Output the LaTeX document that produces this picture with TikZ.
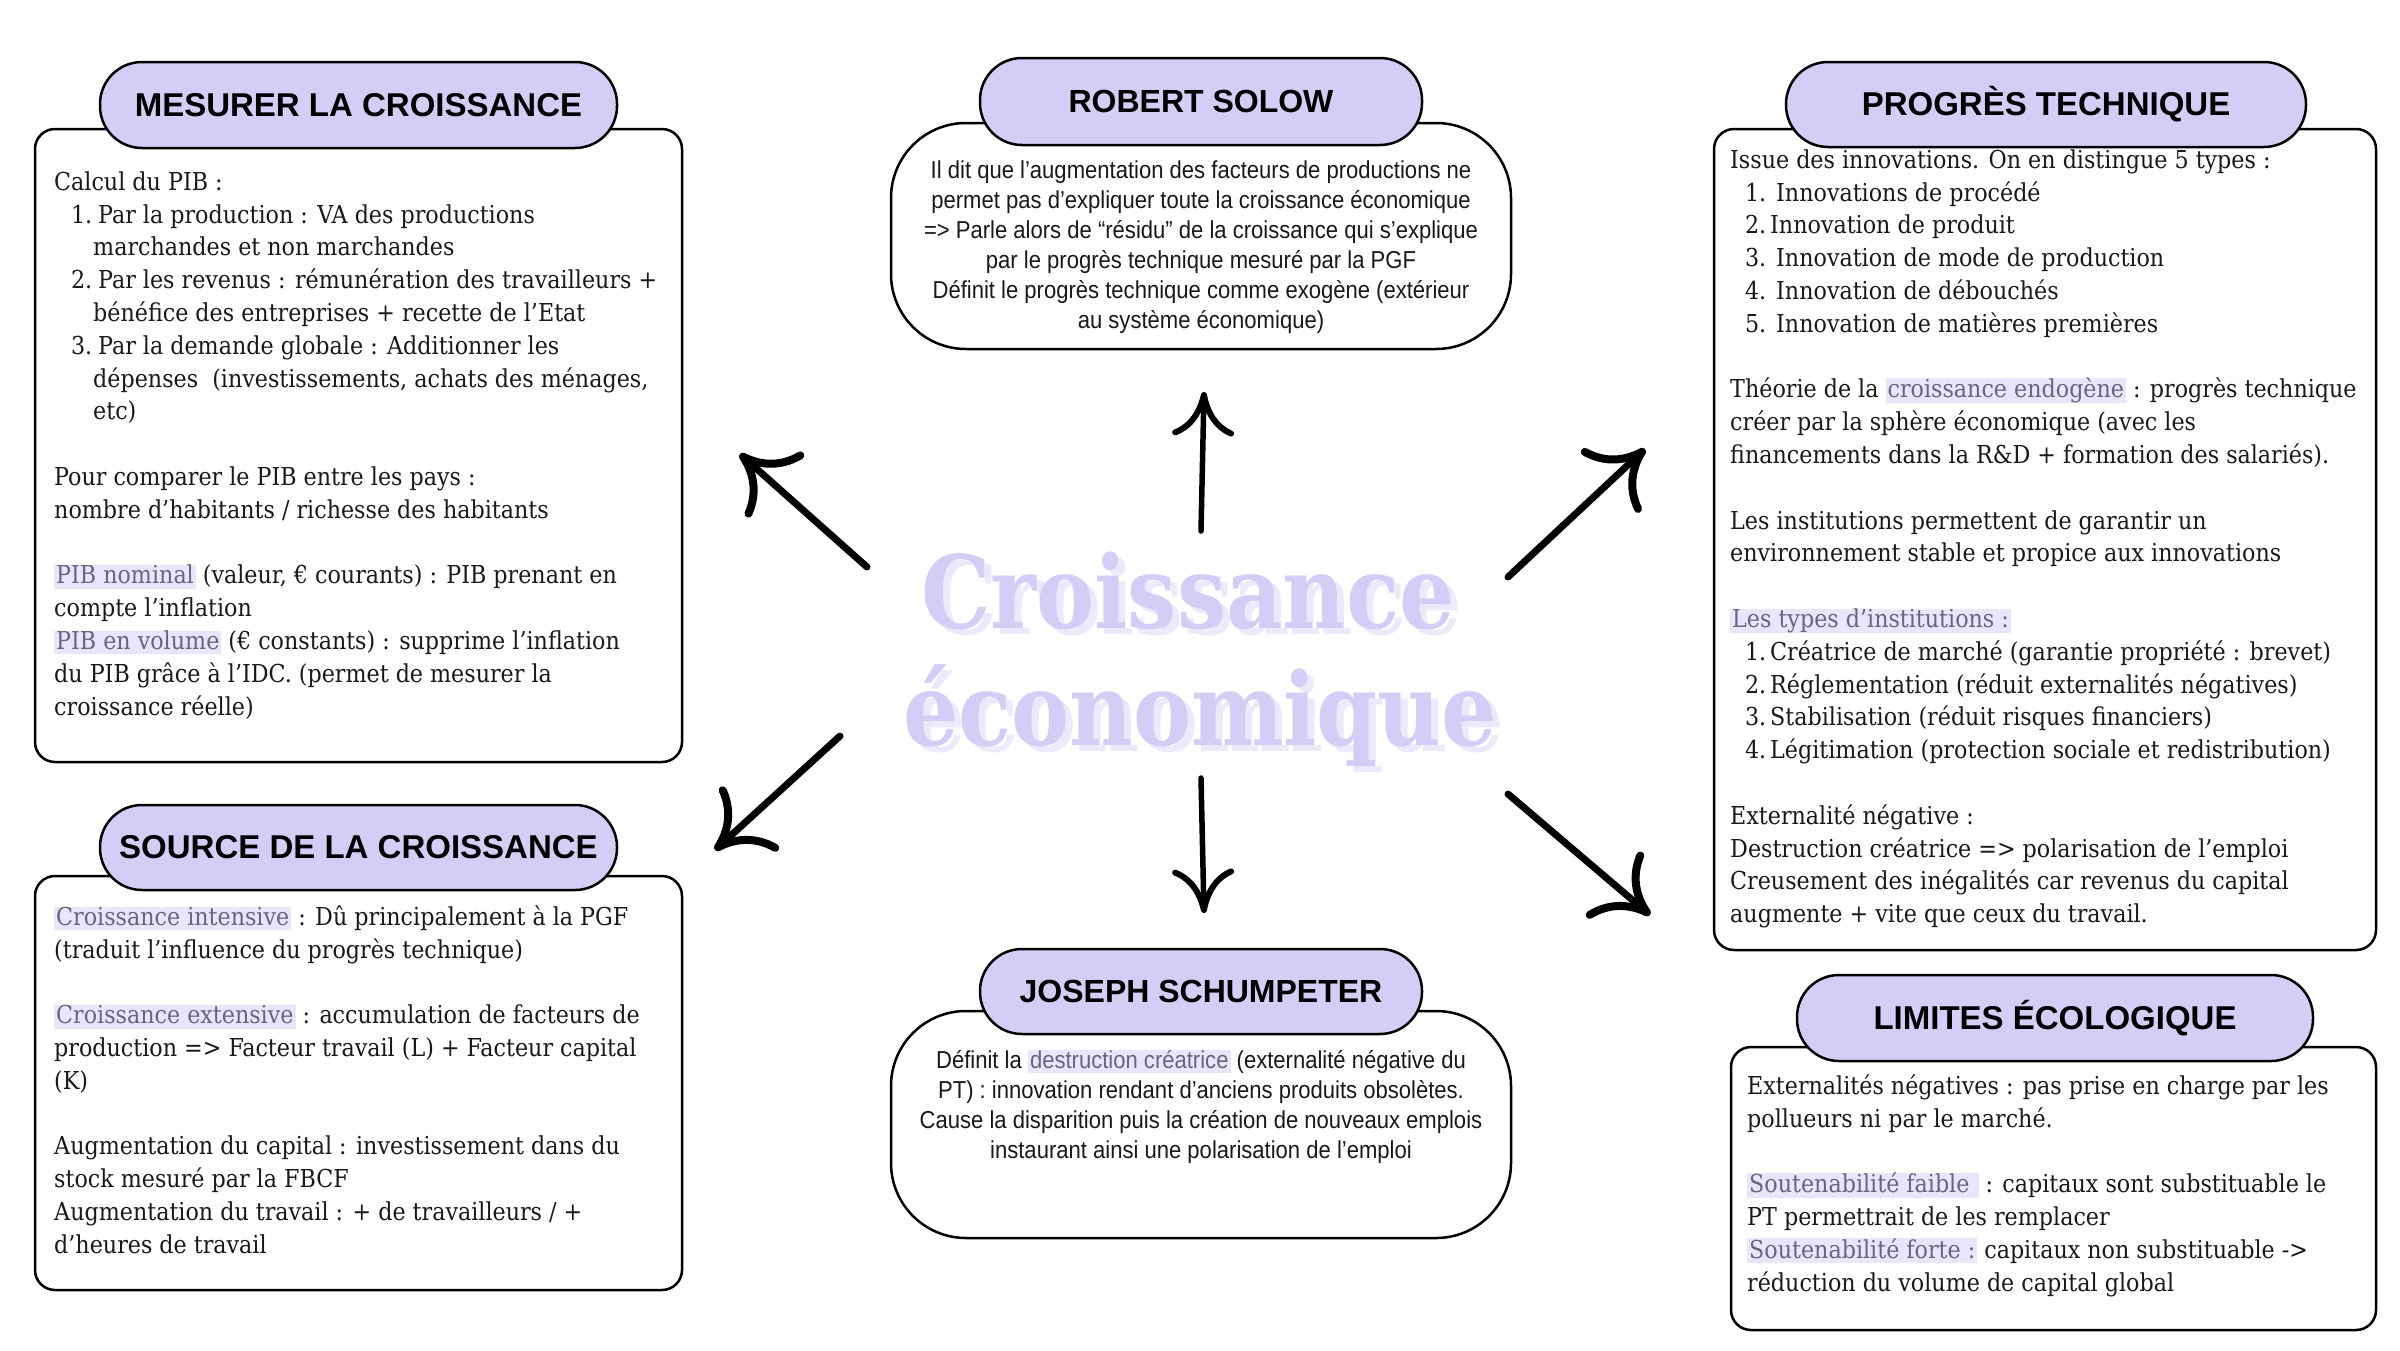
\documentclass[tikz,border=0pt]{standalone}
\usepackage{fontspec}
\usetikzlibrary{arrows.meta}
\newfontfamily\serifbody{DejaVu Serif Condensed}
\newfontfamily\sansbody{Liberation Sans}[FakeStretch=0.9]
\newfontfamily\headfont{Liberation Sans Bold}
\newfontfamily\titlefont{DejaVu Serif Condensed Bold}[FakeStretch=0.96]
\definecolor{lav}{RGB}{213,205,246}
\definecolor{lavshadow}{RGB}{236,233,252}
\definecolor{hlbg}{RGB}{233,229,250}
\definecolor{hltx}{RGB}{105,100,130}
\definecolor{ink}{RGB}{25,25,25}
\newcommand\hl[1]{{\setlength{\fboxsep}{0pt}\colorbox{hlbg}{\rule[-0.2em]{0pt}{0.92em}\hspace{2pt}\textcolor{hltx}{#1}\hspace{2pt}}}}
\newcommand\fs{\rule{0pt}{25pt}}
\newcommand\num[2]{\makebox[#1][r]{#2}}
\newcommand\ind[1]{\hspace*{#1}}
\tikzset{
  bodybox/.style={draw=black, line width=2.5pt, fill=white, rounded corners=20pt, inner sep=0pt},
  roundbox/.style={draw=black, line width=2.5pt, fill=white, rounded corners=75pt, inner sep=0pt},
  head/.style={draw=black, line width=2.5pt, fill=lav, rounded corners=42pt, inner sep=0pt, text=black, font=\headfont\fontsize{33}{36}\selectfont},
  headsm/.style={head, font=\headfont\fontsize{32}{36}\selectfont},
  txt/.style={inner sep=0pt, anchor=north west, align=left, text=ink, font=\serifbody\fontsize{24.7}{32.8}\selectfont},
  ctxt/.style={inner sep=0pt, anchor=north, align=center, text=ink, font=\sansbody\fontsize{24.5}{30}\selectfont},
  ttl/.style={inner sep=0pt, anchor=base, font=\titlefont\fontsize{101}{110}\selectfont},
  arrd/.style={line width=7pt, line cap=round, -{Computer Modern Rightarrow[length=50pt,width=86pt,line width=8pt]}},
  arrv/.style={line width=5.5pt, line cap=round, -{Computer Modern Rightarrow[length=44pt,width=62pt,line width=6pt]}}
}
\begin{document}
\begin{tikzpicture}[x=1pt,y=-1pt]
\useasboundingbox (0,0) rectangle (2400,1350);
\fill[white] (0,0) rectangle (2400,1350);

% bodies
\node[bodybox, minimum width=647pt, minimum height=633pt] (m1body) at (358.5,445.5) {};
\node[bodybox, minimum width=647pt, minimum height=414pt] (m2body) at (358.5,1083) {};
\node[roundbox, minimum width=620pt, minimum height=226pt] (solbody) at (1201,236) {};
\node[roundbox, minimum width=620pt, minimum height=227pt] (schbody) at (1201,1124.5) {};
\node[bodybox, minimum width=662pt, minimum height=821pt] (ptbody) at (2045,539.5) {};
\node[bodybox, minimum width=645pt, minimum height=283pt] (lebody) at (2053.5,1188.5) {};

% headers
\node[head, minimum width=517pt, minimum height=86pt] (m1head) at (358.5,105) {MESURER LA CROISSANCE};
\node[head, minimum width=517pt, minimum height=85pt] (m2head) at (358.5,847.5) {SOURCE DE LA CROISSANCE};
\node[headsm, minimum width=442pt, minimum height=87pt] (solhead) at (1201,101.5) {ROBERT SOLOW};
\node[headsm, minimum width=442pt, minimum height=85pt] (schhead) at (1201,991.5) {JOSEPH SCHUMPETER};
\node[head, minimum width=520pt, minimum height=85pt] (pthead) at (2046,104.5) {PROGRÈS TECHNIQUE};
\node[head, minimum width=516pt, minimum height=86pt] (lehead) at (2055,1018) {LIMITES ÉCOLOGIQUE};

% texts
\node[txt] (m1txt) at (54,165) {\fs Calcul du PIB :\\
\num{38pt}{1.}\hspace{6pt}Par la production : VA des productions\\
\ind{39pt}marchandes et non marchandes\\
\num{38pt}{2.}\hspace{6pt}Par les revenus : rémunération des travailleurs +\\
\ind{39pt}bénéfice des entreprises + recette de l’Etat\\
\num{38pt}{3.}\hspace{6pt}Par la demande globale : Additionner les\\
\ind{39pt}dépenses \ (investissements, achats des ménages,\\
\ind{39pt}etc)\\
\mbox{}\\
Pour comparer le PIB entre les pays :\\
nombre d’habitants / richesse des habitants\\
\mbox{}\\
\hl{PIB nominal} (valeur, € courants) : PIB prenant en\\
compte l’inflation\\
\hl{PIB en volume} (€ constants) : supprime l’inflation\\
du PIB grâce à l’IDC. (permet de mesurer la\\
croissance réelle)};

\node[txt] (m2txt) at (54,900) {\fs\hl{Croissance intensive} : Dû principalement à la PGF\\
(traduit l’influence du progrès technique)\\
\mbox{}\\
\hl{Croissance extensive} : accumulation de facteurs de\\
production => Facteur travail (L) + Facteur capital\\
(K)\\
\mbox{}\\
Augmentation du capital : investissement dans du\\
stock mesuré par la FBCF\\
Augmentation du travail : + de travailleurs / +\\
d’heures de travail};

\node[txt] (pttxt) at (1730,143) {\fs Issue des innovations. On en distingue 5 types :\\
\num{36pt}{1.}\hspace{10pt}Innovations de procédé\\
\num{36pt}{2.}\hspace{4pt}Innovation de produit\\
\num{36pt}{3.}\hspace{10pt}Innovation de mode de production\\
\num{36pt}{4.}\hspace{10pt}Innovation de débouchés\\
\num{36pt}{5.}\hspace{10pt}Innovation de matières premières\\
\mbox{}\\
Théorie de la \hl{croissance endogène} : progrès technique\\
créer par la sphère économique (avec les\\
financements dans la R\&D + formation des salariés).\\
\mbox{}\\
Les institutions permettent de garantir un\\
environnement stable et propice aux innovations\\
\mbox{}\\
\hl{Les types d’institutions :}\\
\num{36pt}{1.}\hspace{4pt}Créatrice de marché (garantie propriété : brevet)\\
\num{36pt}{2.}\hspace{4pt}Réglementation (réduit externalités négatives)\\
\num{36pt}{3.}\hspace{4pt}Stabilisation (réduit risques financiers)\\
\num{36pt}{4.}\hspace{4pt}Légitimation (protection sociale et redistribution)\\
\mbox{}\\
Externalité négative :\\
Destruction créatrice => polarisation de l’emploi\\
Creusement des inégalités car revenus du capital\\
augmente + vite que ceux du travail.};

\node[txt] (letxt) at (1747,1069) {\fs Externalités négatives : pas prise en charge par les\\
pollueurs ni par le marché.\\
\mbox{}\\
\hl{Soutenabilité faible\ } : capitaux sont substituable le\\
PT permettrait de les remplacer\\
\hl{Soutenabilité forte :} capitaux non substituable ->\\
réduction du volume de capital global};

\node[ctxt] (soltxt) at (1201,153) {\fs Il dit que l’augmentation des facteurs de productions ne\\
permet pas d’expliquer toute la croissance économique\\
=> Parle alors de “résidu” de la croissance qui s’explique\\
par le progrès technique mesuré par la PGF\\
Définit le progrès technique comme exogène (extérieur\\
au système économique)};

\node[ctxt] (schtxt) at (1201,1043) {\fs Définit la \hl{destruction créatrice} (externalité négative du\\
PT) : innovation rendant d’anciens produits obsolètes.\\
Cause la disparition puis la création de nouveaux emplois\\
instaurant ainsi une polarisation de l’emploi};

% title
\node[ttl, text=lavshadow] (t1s) at (1195,634) {Croissance};
\node[ttl, text=lav] (t1) at (1188,628) {Croissance};
\node[ttl, text=lavshadow] (t2s) at (1207,751) {économique};
\node[ttl, text=lav] (t2) at (1200,745) {économique};

% arrows
\coordinate (aUs) at (1201,531);  \coordinate (aUe) at (1204,392);
\coordinate (aTLs) at (867,567);  \coordinate (aTLe) at (740,454);
\coordinate (aTRs) at (1508,577); \coordinate (aTRe) at (1645,449);
\coordinate (aBLs) at (840,736);  \coordinate (aBLe) at (715,850);
\coordinate (aDs) at (1201,778);  \coordinate (aDe) at (1204,913);
\coordinate (aBRs) at (1508,794); \coordinate (aBRe) at (1650,915);
\draw[arrv] (aUs) -- (aUe);
\draw[arrv] (aDs) -- (aDe);
\draw[arrd] (aTLs) -- (aTLe);
\draw[arrd] (aTRs) -- (aTRe);
\draw[arrd] (aBLs) -- (aBLe);
\draw[arrd] (aBRs) -- (aBRe);
\end{tikzpicture}
\end{document}
